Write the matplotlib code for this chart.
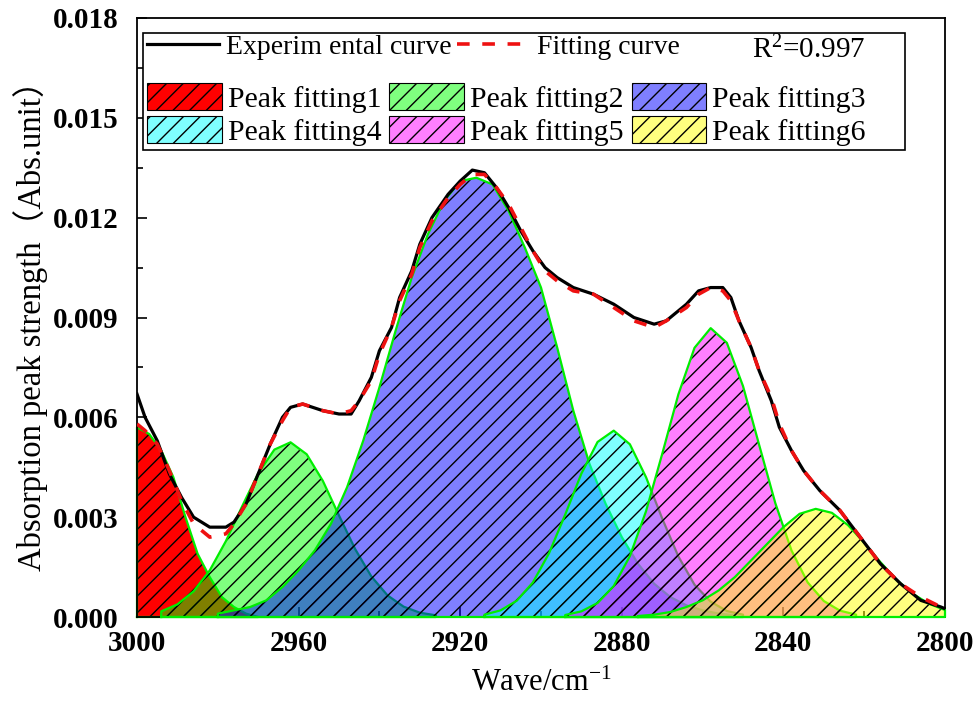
import matplotlib
matplotlib.use("Agg")
import matplotlib.pyplot as plt
from matplotlib.patches import Patch, Rectangle
from matplotlib.lines import Line2D
from matplotlib.ticker import MultipleLocator, FormatStrFormatter

plt.rcParams['font.family'] = ['Liberation Serif', 'Noto Sans CJK SC']
plt.rcParams['mathtext.fontset'] = 'custom'
plt.rcParams['mathtext.rm'] = 'Liberation Serif'
plt.rcParams['mathtext.it'] = 'Liberation Serif:italic'
plt.rcParams['hatch.linewidth'] = 1.0

# experimental spectrum (wavenumber, absorbance)
exp_x = [3000, 2998, 2995, 2992, 2989, 2986, 2982, 2978, 2976, 2973,
         2970, 2967, 2964, 2962, 2959, 2954, 2950, 2947, 2945, 2942,
         2940, 2937, 2935, 2932, 2930, 2927, 2923, 2920, 2917, 2914,
         2911, 2908, 2905, 2902, 2899, 2896, 2892, 2887, 2882, 2877,
         2872, 2869, 2864, 2861, 2858, 2855, 2853, 2851, 2848, 2846,
         2843, 2841, 2838, 2835, 2831, 2826, 2821, 2816, 2811, 2806,
         2801, 2800]
exp_y = [0.0067, 0.0060, 0.0053, 0.0043, 0.0036, 0.0030, 0.0027, 0.0027, 0.00285, 0.0034,
         0.0043, 0.0052, 0.0060, 0.0063, 0.0064, 0.0062, 0.0061, 0.0061, 0.0065, 0.0072,
         0.0080, 0.0087, 0.0096, 0.0104, 0.0112, 0.0120, 0.0127, 0.0131, 0.01343, 0.01335,
         0.0129, 0.0123, 0.0116, 0.0110, 0.0105, 0.0102, 0.0099, 0.0097, 0.0094, 0.0090,
         0.0088, 0.0089, 0.0094, 0.0098, 0.0099, 0.0099, 0.0096, 0.0089, 0.0081, 0.0074,
         0.0065, 0.0057, 0.0050, 0.0044, 0.0038, 0.0032, 0.0024, 0.0016, 0.0010, 0.0005,
         0.0003, 0.00025]

# fitted curve
fit_x = exp_x
fit_y = [0.0058, 0.0056, 0.0052, 0.0044, 0.0035, 0.0028, 0.0024, 0.0025, 0.0028, 0.0034,
         0.0043, 0.0052, 0.0059, 0.0063, 0.0064, 0.0062, 0.0061, 0.0062, 0.0065, 0.0071,
         0.0079, 0.0087, 0.0095, 0.0103, 0.0111, 0.0119, 0.0126, 0.0130, 0.0133, 0.0133,
         0.0129, 0.0124, 0.0117, 0.0110, 0.0104, 0.0101, 0.0098, 0.0097, 0.0093, 0.0089,
         0.0087, 0.0089, 0.0093, 0.0097, 0.0099, 0.0098, 0.0095, 0.0089, 0.0081, 0.0074,
         0.0066, 0.0058, 0.0050, 0.0044, 0.0038, 0.0032, 0.0024, 0.0016, 0.0010, 0.0006,
         0.0003, 0.0003]

# fitted peaks
p1_x = [3000, 2997, 2994, 2991, 2988, 2985, 2982, 2979, 2976, 2973, 2970]
p1_y = [0.0057, 0.0055, 0.0050, 0.0042, 0.0030, 0.0019, 0.0012, 0.0006, 0.0003, 0.0001, 0.0]

p2_x = [2994, 2990, 2986, 2982, 2978, 2974, 2970, 2966, 2962, 2958,
        2954, 2950, 2946, 2942, 2938, 2934, 2930, 2926]
p2_y = [0.00017, 0.00038, 0.00077, 0.0014, 0.00228, 0.00332, 0.00432, 0.00503, 0.00525, 0.00489,
        0.00409, 0.00305, 0.00204, 0.00122, 0.00065, 0.00031, 0.00013, 0.00005]

p3_x = [2980, 2976, 2972, 2968, 2964, 2960, 2956, 2952, 2948, 2944,
        2940, 2936, 2932, 2928, 2924, 2920, 2916, 2912, 2908, 2904,
        2900, 2896, 2892, 2888, 2884, 2880, 2876, 2872, 2868, 2864,
        2860, 2856, 2852]
p3_y = [0.0001, 0.0002, 0.0003, 0.0005, 0.0009, 0.0014, 0.0020, 0.0028, 0.0039, 0.0053,
        0.0069, 0.0086, 0.0102, 0.0115, 0.0125, 0.0131, 0.0132, 0.0130, 0.0122, 0.0111,
        0.0099, 0.0081, 0.0062, 0.0046, 0.0034, 0.0024, 0.0016, 0.0010, 0.0006, 0.00035,
        0.0002, 0.0001, 0.00005]

p4_x = [2914, 2910, 2906, 2902, 2898, 2894, 2890, 2886, 2882, 2878,
        2874, 2870, 2866, 2862, 2858, 2854, 2850]
p4_y = [0.00007, 0.0002, 0.00049, 0.00104, 0.00192, 0.00308, 0.00431, 0.00526, 0.0056, 0.00519,
        0.0042, 0.00296, 0.00182, 0.00097, 0.00046, 0.00018, 0.00007]

p5_x = [2894, 2890, 2886, 2882, 2878, 2874, 2870, 2866, 2862, 2858,
        2854, 2850, 2846, 2842, 2838, 2834, 2830, 2826, 2822]
p5_y = [0.00006, 0.00017, 0.00042, 0.00093, 0.00183, 0.00318, 0.0049, 0.00669, 0.00809, 0.00868,
        0.00824, 0.00694, 0.00517, 0.00342, 0.0020, 0.00104, 0.00048, 0.00019, 0.00007]

p6_x = [2876, 2872, 2868, 2864, 2860, 2856, 2852, 2848, 2844, 2840,
        2836, 2832, 2828, 2824, 2820, 2816, 2812, 2808, 2804, 2800]
p6_y = [0.00003, 0.00007, 0.00015, 0.0003, 0.0005, 0.0008, 0.0012, 0.0017, 0.0022, 0.0027,
        0.0031, 0.00325, 0.00313, 0.00276, 0.00223, 0.00165, 0.00112, 0.0007, 0.0004, 0.00021]

peak_labels = ["Peak fitting1", "Peak fitting2", "Peak fitting3",
               "Peak fitting4", "Peak fitting5", "Peak fitting6"]
peak_colors = [(1, 0, 0, 1.0), (0, 1, 0, 0.5), (0, 0, 1, 0.5),
               (0, 1, 1, 0.5), (1, 0, 1, 0.5), (1, 1, 0, 0.5)]
peaks = [(p1_x, p1_y), (p2_x, p2_y), (p3_x, p3_y),
         (p4_x, p4_y), (p5_x, p5_y), (p6_x, p6_y)]

fig = plt.figure(figsize=(9.77, 7.02), dpi=100)
ax = fig.add_axes([0.14023, 0.12108, 0.82702, 0.85328])

for i, ((px, py), col) in enumerate(zip(peaks, peak_colors)):
    ax.fill_between(px, 0, py, facecolor=col, edgecolor='black',
                    linewidth=0, hatch='//', zorder=2 + i)
    ax.plot([px[0]] + px + [px[-1], px[0]], [0] + py + [0, 0],
            color='#00ee00', lw=1.6, zorder=2 + i, clip_on=False)

ax.plot(exp_x, exp_y, color='black', lw=2.3, zorder=10)
ax.plot(fit_x, fit_y, color='#ee1111', lw=2.6, dashes=(3.5, 3.5), zorder=11)

ax.set_xlim(3000, 2800)
ax.set_ylim(0, 0.018)
ax.xaxis.set_major_locator(MultipleLocator(40))
ax.xaxis.set_minor_locator(MultipleLocator(20))
ax.yaxis.set_major_locator(MultipleLocator(0.003))
ax.yaxis.set_minor_locator(MultipleLocator(0.0015))
ax.yaxis.set_major_formatter(FormatStrFormatter('%.3f'))
ax.tick_params(which='both', direction='in', width=1.2, labelsize=21)
ax.tick_params(which='major', length=7)
ax.tick_params(which='minor', length=4)
ax.tick_params(axis='x', pad=9)
ax.tick_params(axis='y', pad=13)
for lab in ax.get_xticklabels() + ax.get_yticklabels():
    lab.set_fontweight('bold')
for s in ax.spines.values():
    s.set_linewidth(1.3)

ax.set_xlabel("Wave/cm$^{-1}$", fontsize=22, labelpad=9)
ax.set_ylabel("Absorption peak strength（Abs.unit）", fontsize=23.5, labelpad=4)

# legend frame
ax.add_patch(Rectangle((0.0074, 0.78), 0.943, 0.195, transform=ax.transAxes,
                       facecolor='white', edgecolor='black', lw=1.2, zorder=20))

h_top = [Line2D([], [], color='black', lw=2.3),
         Line2D([], [], color='#ee1111', lw=2.6, dashes=(3.5, 3.5))]
leg1 = ax.legend(h_top, ["Experim ental curve", "Fitting curve"], ncol=2,
                 loc='upper left', bbox_to_anchor=(0.0124, 0.972), frameon=False,
                 fontsize=20, handlelength=2.6, handletextpad=0.25,
                 columnspacing=0.2, borderpad=0, borderaxespad=0)
leg1.set_zorder(21)
ax.add_artist(leg1)
ax.text(0.761, 0.947, "R$^{2}$=0.997", transform=ax.transAxes, fontsize=21,
        va='center', ha='left', zorder=22)

# legend fills column by column, so reorder to get rows 1-2-3 / 4-5-6
order = [0, 3, 1, 4, 2, 5]
h_peaks = [Patch(facecolor=peak_colors[k], edgecolor='black', lw=0.8, hatch='//') for k in order]
leg2 = ax.legend(h_peaks, [peak_labels[k] for k in order], ncol=3, loc='upper left',
                 bbox_to_anchor=(0.0124, 0.892), frameon=False, fontsize=21.5,
                 handlelength=2.5, handleheight=1.04, handletextpad=0.2,
                 columnspacing=0.27, labelspacing=0.1, borderpad=0, borderaxespad=0)
leg2.set_zorder(21)

fig.savefig("out.png", dpi=100)
